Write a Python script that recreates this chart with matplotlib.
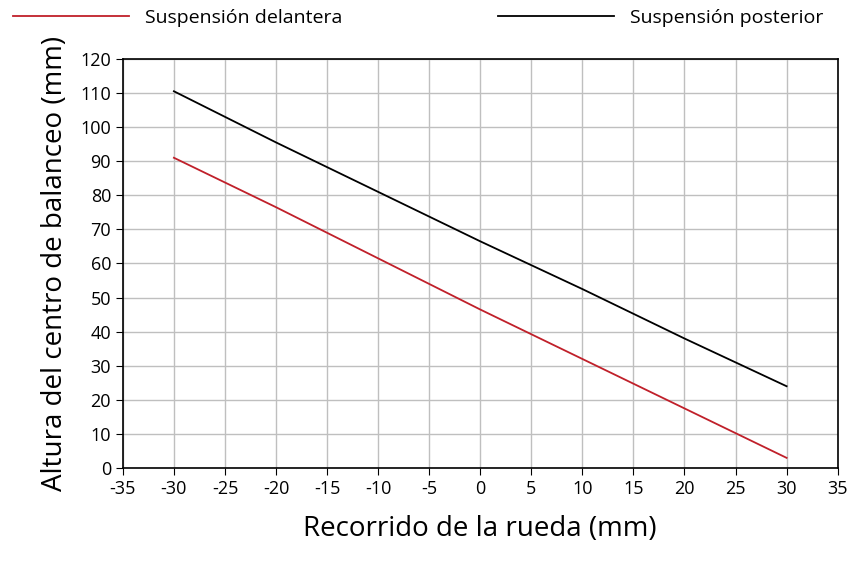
import matplotlib
matplotlib.use("Agg")
import matplotlib.pyplot as plt

x = [-30, -20, -10, 0, 10, 20, 30]
delantera = [91, 76.5, 61.5, 46.5, 32, 17.5, 3]
posterior = [110.5, 95.5, 81, 66.5, 52.5, 38, 24]
xticks = list(range(-35, 36, 5))
yticks = list(range(0, 121, 10))

plt.rcParams['font.family'] = ['Open Sans', 'DejaVu Sans']
plt.rcParams['axes.unicode_minus'] = False
fig = plt.figure(figsize=(8.53, 5.66), dpi=100)
ax = fig.add_axes([0.144, 0.173, 0.838, 0.723])
ax.plot(x, delantera, color='#c0202a', lw=1.3, label='Suspensión delantera')
ax.plot(x, posterior, color='black', lw=1.3, label='Suspensión posterior')
ax.set_xlim(-35, 35); ax.set_ylim(0, 120)
ax.set_xticks(xticks); ax.set_yticks(yticks)
ax.grid(True, color='#bfbfbf', lw=1)
ax.set_axisbelow(True)
for s in ax.spines.values():
    s.set_color('black'); s.set_linewidth(1.2)
ax.tick_params(labelsize=13, length=5, direction='out', colors='black')
ax.set_xlabel('Recorrido de la rueda (mm)', fontsize=20, labelpad=12)
ax.set_ylabel('Altura del centro de balanceo (mm)', fontsize=20, labelpad=8)
fig.legend(loc='upper center', bbox_to_anchor=(0.49, 1.015), ncol=2, frameon=False,
           fontsize=14, handlelength=6, columnspacing=8)
fig.savefig('out.png', dpi=100)
